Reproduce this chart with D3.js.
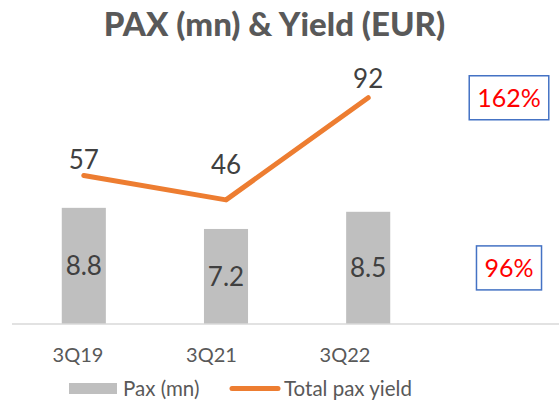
<!DOCTYPE html>
<html>
<head>
<meta charset="utf-8">
<script src="https://d3js.org/d3.v7.min.js"></script>
<style>
  body { margin: 0; background: #fff; }
  text { font-family: Lato, "Open Sans", sans-serif; }
</style>
</head>
<body>
<svg id="chart" width="559" height="404"></svg>
<script>
// data
var quarters = ["3Q19", "3Q21", "3Q22"];
var pax = [8.8, 7.2, 8.5];
var yieldEur = [57, 46, 92];
var changes = ["162%", "96%"];
// how far each yield label sits above its point (the 46 one was moved up by hand)
var yieldLabelLift = [6, 26, 10];

var svg = d3.select("#chart");
var grey = "#595959", barCol = "#bfbfbf", lineCol = "#ed7d31";

var x = d3.scaleBand().domain(quarters).range([12, 440])
    .paddingInner(0.69).paddingOuter(0.35);
// category labels sit a bit left of the bars in the original
var xLab = d3.scalePoint().domain(quarters).range([77.5, 344.5]);
var yLeft = d3.scaleLinear().domain([0, 10]).range([324, 192]);
var yRight = d3.scaleLinear().domain([0, 100]).range([302, 80]);

// title
svg.append("text")
    .attr("x", 274.5).attr("y", 36)
    .attr("text-anchor", "middle")
    .attr("font-size", 33).attr("font-weight", 900)
    .attr("fill", grey)
    .text("PAX (mn) & Yield (EUR)");

// bars
svg.selectAll(".bar").data(pax).enter().append("rect")
    .attr("class", "bar")
    .attr("x", function(d, i) { return x(quarters[i]); })
    .attr("y", function(d) { return yLeft(d); })
    .attr("width", x.bandwidth())
    .attr("height", function(d) { return yLeft(0) - yLeft(d); })
    .attr("fill", barCol);

svg.selectAll(".barlab").data(pax).enter().append("text")
    .attr("class", "barlab")
    .attr("x", function(d, i) { return x(quarters[i]) + x.bandwidth() / 2; })
    .attr("y", function(d) { return yLeft(d / 2); })
    .attr("dy", "0.36em")
    .attr("text-anchor", "middle")
    .attr("font-size", 26)
    .attr("fill", "#404040")
    .text(function(d) { return d.toFixed(1); });

// category axis
svg.append("line")
    .attr("x1", 12).attr("x2", 559)
    .attr("y1", yLeft(0)).attr("y2", yLeft(0))
    .attr("stroke", "#d9d9d9").attr("stroke-width", 1.5);

var ax = svg.append("g")
    .attr("transform", "translate(0," + yLeft(0) + ")")
    .call(d3.axisBottom(xLab).tickSize(0).tickPadding(24));
ax.select(".domain").remove();
ax.selectAll("text")
    .attr("font-family", "Lato, 'Open Sans', sans-serif")
    .attr("font-size", 20).attr("fill", grey);

// yield line
var line = d3.line()
    .x(function(d, i) { return x(quarters[i]) + x.bandwidth() / 2; })
    .y(function(d) { return yRight(d); });

svg.append("path")
    .datum(yieldEur)
    .attr("d", line)
    .attr("fill", "none")
    .attr("stroke", lineCol)
    .attr("stroke-width", 5)
    .attr("stroke-linecap", "round")
    .attr("stroke-linejoin", "round");

svg.selectAll(".ylab").data(yieldEur).enter().append("text")
    .attr("class", "ylab")
    .attr("x", function(d, i) { return x(quarters[i]) + x.bandwidth() / 2; })
    .attr("y", function(d, i) { return yRight(d) - yieldLabelLift[i]; })
    .attr("text-anchor", "middle")
    .attr("font-size", 26)
    .attr("fill", "#404040")
    .text(function(d) { return d; });

// change boxes, lined up with the last yield point and the last bar label
var boxY = [yRight(yieldEur[2]), yLeft(pax[2] / 2)];
changes.forEach(function(c, i) {
    var g = svg.append("g");
    var t = g.append("text")
        .attr("x", 509).attr("y", boxY[i])
        .attr("dy", "0.36em")
        .attr("text-anchor", "middle")
        .attr("font-size", 25)
        .attr("fill", "#ff0000")
        .text(c);
    var w = t.node().getComputedTextLength() + 16;
    g.insert("rect", "text")
        .attr("x", 509 - w / 2).attr("y", boxY[i] - 22)
        .attr("width", w).attr("height", 44)
        .attr("fill", "#fff")
        .attr("stroke", "#4472c4").attr("stroke-width", 1.5);
});

// legend
var leg = svg.append("g");
leg.append("rect")
    .attr("x", 69).attr("y", 383).attr("width", 48).attr("height", 11)
    .attr("fill", barCol);
leg.append("text")
    .attr("x", 123).attr("y", 395.5)
    .attr("font-size", 20.5).attr("fill", grey)
    .text("Pax (mn)");
leg.append("line")
    .attr("x1", 232).attr("x2", 278).attr("y1", 388.5).attr("y2", 388.5)
    .attr("stroke", lineCol).attr("stroke-width", 5)
    .attr("stroke-linecap", "round");
leg.append("text")
    .attr("x", 284).attr("y", 395.5)
    .attr("font-size", 20.5).attr("fill", grey)
    .text("Total pax yield");
</script>
</body>
</html>
